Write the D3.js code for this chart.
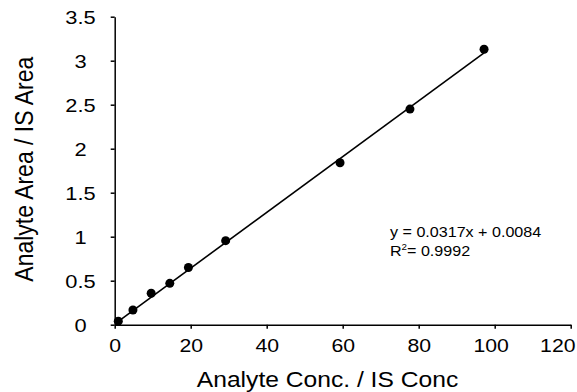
<!DOCTYPE html>
<html>
<head>
<meta charset="utf-8">
<script src="https://cdnjs.cloudflare.com/ajax/libs/d3/7.8.5/d3.min.js"></script>
<style>
  body { margin: 0; background: #fff; }
  text { font-family: "Liberation Sans", Arial, sans-serif; fill: #000; }
</style>
</head>
<body>
<div id="viz-container"></div>
<script>
// calibration points
var concValues = [0.95, 4.8, 9.6, 14.5, 19.4, 29.2, 59.3, 77.7, 97.2];
var areaRatios = [0.04, 0.167, 0.357, 0.47, 0.65, 0.955, 1.84, 2.45, 3.13];
var xTicks = [0, 20, 40, 60, 80, 100, 120];
var yTicks = [0, 0.5, 1, 1.5, 2, 2.5, 3, 3.5];
var fitSlope = 0.0317;
var fitIntercept = 0.0084;
var eqLabel = "y = 0.0317x + 0.0084";
var r2Label = "= 0.9992";

renderChart('#viz-container', 577, 392);

function renderChart(id, width, height)
{
    var sx = 1.15; // text in the original is a bit wide
    var tx = 1.18;
    var x = d3.scaleLinear().domain([0, 120]).range([114.7, 570.7]);
    var y = d3.scaleLinear().domain([0, 3.5]).range([324.7, 16.7]);

    var svg = d3.select(id).append("svg")
                .attr("width", width)
                .attr("height", height);

    var xAxis = svg.append("g")
                .attr("transform", "translate(0," + y(0) + ")")
                .call(d3.axisBottom(x).tickValues(xTicks).tickFormat(String)
                        .tickSize(4).tickSizeOuter(0));
    var yAxis = svg.append("g")
                .attr("transform", "translate(" + x(0) + ",0)")
                .call(d3.axisLeft(y).tickValues(yTicks).tickFormat(String)
                        .tickSize(4).tickSizeOuter(0));

    svg.selectAll(".domain, .tick line")
        .attr("stroke", "#000")
        .attr("stroke-width", 1.5);

    xAxis.selectAll(".tick text")
        .attr("font-size", 18)
        .attr("dy", null)
        .attr("y", 27)
        .attr("x", 0)
        .attr("transform", "scale(" + tx + ",1)");

    // Excel pulls the last labels in so they fit
    xAxis.selectAll(".tick text")
        .filter(function(d) { return d == 100; })
        .attr("x", -4 / tx);
    xAxis.selectAll(".tick text")
        .filter(function(d) { return d == 120; })
        .attr("text-anchor", "end")
        .attr("x", (575 - x(120)) / tx);

    yAxis.selectAll(".tick text")
        .attr("font-size", 18.5)
        .attr("text-anchor", "middle")
        .attr("dy", "0.36em")
        .attr("x", (80.5 - x(0)) / tx)
        .attr("transform", "scale(" + tx + ",1)");

    // trendline over the data range
    var fitLine = d3.line()
        .x(function(d) { return x(d); })
        .y(function(d) { return y(fitSlope * d + fitIntercept); });
    svg.append("path")
        .datum([d3.min(concValues), d3.max(concValues)])
        .attr("d", fitLine)
        .attr("fill", "none")
        .attr("stroke", "#000")
        .attr("stroke-width", 1.6);

    svg.selectAll(".pt")
        .data(concValues)
        .enter().append("circle")
        .attr("class", "pt")
        .attr("cx", function(d) { return x(d); })
        .attr("cy", function(d, i) { return y(areaRatios[i]); })
        .attr("r", 4.5)
        .attr("fill", "#000");

    // equation
    var eq = svg.append("g").attr("transform", "translate(390,0) scale(" + sx + ",1)");
    eq.append("text")
        .attr("x", 0).attr("y", 237.5)
        .attr("font-size", 14)
        .text(eqLabel);
    var r2 = eq.append("text")
        .attr("x", 0).attr("y", 256)
        .attr("font-size", 14);
    r2.append("tspan").text("R");
    r2.append("tspan").attr("font-size", 8.5).attr("dy", -6).text("2");
    r2.append("tspan").attr("dy", 6).text(r2Label);

    // axis titles
    svg.append("text")
        .attr("transform", "translate(327.5,386.5) scale(1.12,1)")
        .attr("text-anchor", "middle")
        .attr("font-size", 22)
        .text("Analyte Conc. / IS Conc");
    svg.append("text")
        .attr("transform", "translate(32.5,169.2) scale(" + sx + ",1) rotate(-90)")
        .attr("text-anchor", "middle")
        .attr("font-size", 23)
        .text("Analyte Area / IS Area");
}
</script>
</body>
</html>
